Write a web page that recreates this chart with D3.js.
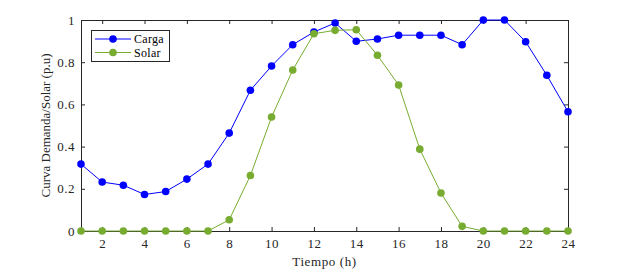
<!DOCTYPE html>
<html>
<head>
<meta charset="utf-8">
<script src="https://cdn.jsdelivr.net/npm/d3@7"></script>
<style>
  body { margin: 0; background: #fff; }
</style>
</head>
<body>
<svg id="chart" width="627" height="270"></svg>
<script>
// hours 1..24
var hours = d3.range(1, 25);
var carga = [0.317, 0.232, 0.217, 0.173, 0.187, 0.246, 0.317, 0.464, 0.667, 0.782,
             0.883, 0.943, 0.986, 0.899, 0.91, 0.928, 0.928, 0.928, 0.883, 1.0,
             1.0, 0.897, 0.738, 0.565];
var solar = [0, 0, 0, 0, 0, 0, 0, 0.053, 0.263, 0.54,
             0.763, 0.935, 0.951, 0.954, 0.833, 0.692, 0.388, 0.18, 0.022, 0,
             0, 0, 0, 0];
var xTicks = [2, 4, 6, 8, 10, 12, 14, 16, 18, 20, 22, 24];
var yTicks = [0, 0.2, 0.4, 0.6, 0.8, 1];
var seriesNames = ["Carga", "Solar"];
var seriesColors = ["#0000ff", "#77ac30"];

var serif = "'Liberation Serif', 'DejaVu Serif', 'Times New Roman', serif";

var svg = d3.select("#chart");
var margins = { left: 81, right: 59, top: 20, bottom: 39 };
var width = 627 - margins.left - margins.right;
var height = 270 - margins.top - margins.bottom;

var xScale = d3.scaleLinear().domain([1, 24]).range([0, width]);
var yScale = d3.scaleLinear().domain([0, 1]).range([height, 0]);

var g = svg.append("g").attr("transform", "translate(" + margins.left + "," + margins.top + ")");

// box
g.append("rect").attr("width", width).attr("height", height)
  .attr("fill", "none").attr("stroke", "#262626").attr("stroke-width", 1)
  .attr("shape-rendering", "crispEdges");

var xAxis = g.append("g").attr("transform", "translate(0," + height + ")")
  .call(d3.axisBottom(xScale).tickValues(xTicks).tickSize(-4).tickPadding(8).tickFormat(d3.format("d")));
var xAxisTop = g.append("g")
  .call(d3.axisTop(xScale).tickValues(xTicks).tickSize(-4).tickFormat(""));
var yAxis = g.append("g")
  .call(d3.axisLeft(yScale).tickValues(yTicks).tickSize(-4).tickPadding(6).tickFormat(d3.format("")));
var yAxisRight = g.append("g").attr("transform", "translate(" + width + ",0)")
  .call(d3.axisRight(yScale).tickValues(yTicks).tickSize(-4).tickFormat(""));

[xAxis, xAxisTop, yAxis, yAxisRight].forEach(function(a) {
  a.attr("font-family", serif);
  a.select(".domain").remove();
  a.selectAll(".tick line").attr("stroke", "#262626");
  a.selectAll("text").style("font-size", "13px").style("font-family", serif)
    .style("letter-spacing", "0.5px").attr("fill", "#262626");
});

// lines and markers
var seriesData = [carga, solar];
var line = d3.line()
  .x(function(d, i) { return xScale(hours[i]); })
  .y(function(d) { return yScale(d); });

seriesData.forEach(function(vals, k) {
  g.append("path").datum(vals)
    .attr("fill", "none").attr("stroke", seriesColors[k]).attr("stroke-width", 1)
    .attr("d", line);
  g.selectAll(".dot" + k).data(vals).enter().append("circle")
    .attr("class", "dot" + k)
    .attr("cx", function(d, i) { return xScale(hours[i]); })
    .attr("cy", function(d) { return yScale(d); })
    .attr("r", 3.8)
    .attr("fill", seriesColors[k]);
});

// axis labels
svg.append("text").attr("x", margins.left + width / 2).attr("y", 266)
  .attr("text-anchor", "middle").style("font-family", serif).style("font-size", "13px")
  .style("letter-spacing", "0.6px").attr("fill", "#262626").text("Tiempo (h)");
svg.append("text")
  .attr("transform", "translate(50," + (margins.top + height / 2) + ") rotate(-90)")
  .attr("text-anchor", "middle").style("font-family", serif).style("font-size", "13px")
  .attr("fill", "#262626").text("Curva Demanda/Solar (p.u)");

// legend
var legend = svg.append("g").attr("transform", "translate(91,30)");
legend.append("rect").attr("width", 78).attr("height", 31)
  .attr("fill", "#fff").attr("stroke", "#262626").attr("stroke-width", 1)
  .attr("shape-rendering", "crispEdges");
seriesNames.forEach(function(name, k) {
  var y = 9 + k * 13.5;
  legend.append("line").attr("x1", 4).attr("x2", 40).attr("y1", y).attr("y2", y)
    .attr("stroke", seriesColors[k]).attr("stroke-width", 1);
  legend.append("circle").attr("cx", 22).attr("cy", y).attr("r", 3.8).attr("fill", seriesColors[k]);
  legend.append("text").attr("x", 43).attr("y", y + 4).style("font-family", serif)
    .style("font-size", "12px").style("letter-spacing", "0.3px").attr("fill", "#000").text(name);
});
</script>
</body>
</html>
